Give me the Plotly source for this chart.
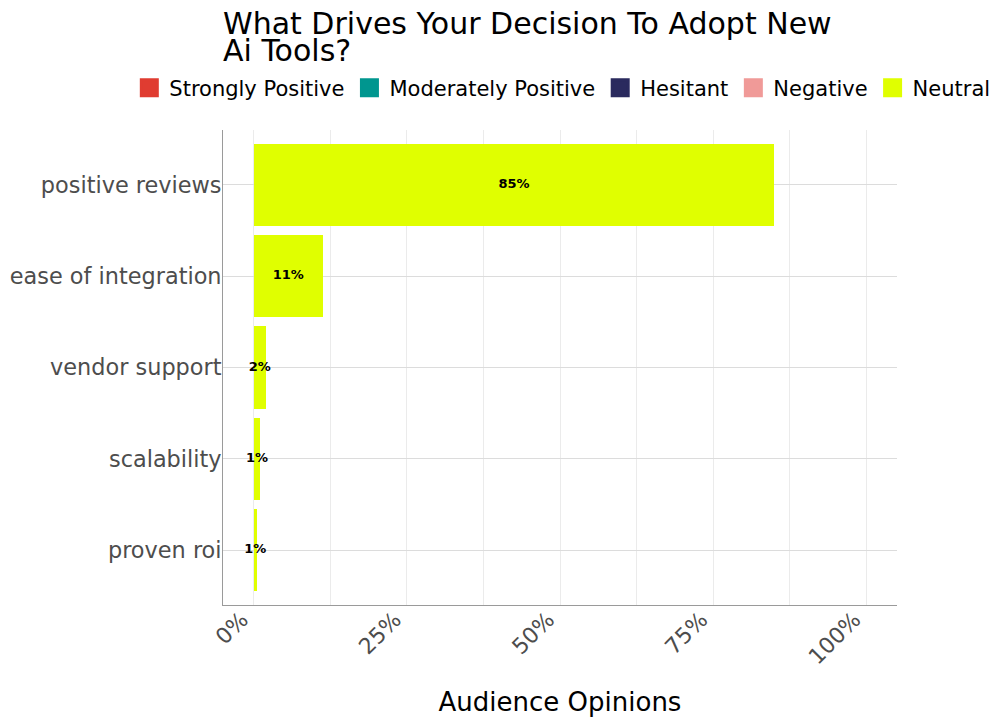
import plotly.graph_objects as go

categories = ["positive reviews", "ease of integration", "vendor support", "scalability", "proven roi"]
series_names = ["Strongly Positive", "Moderately Positive", "Hesitant", "Negative", "Neutral"]
series_colors = ["#E03C31", "#00968F", "#2A2A5E", "#F09A98", "#E0FF00"]
strongly_positive = [0, 0, 0, 0, 0]
moderately_positive = [0, 0, 0, 0, 0]
hesitant = [0, 0, 0, 0, 0]
negative = [0, 0, 0, 0, 0]
neutral = [85.0, 11.3, 2.0, 1.1, 0.55]
x_tick_vals = [0, 25, 50, 75, 100]
x_tick_text = ["0%", "25%", "50%", "75%", "100%"]

series_values = [strongly_positive, moderately_positive, hesitant, negative, neutral]
FONT = "DejaVu Sans"

fig = go.Figure()
for name, color, vals in zip(series_names, series_colors, series_values):
    fig.add_trace(go.Bar(
        x=vals, y=categories, orientation="h", name=name,
        marker=dict(color=color, line=dict(width=0)),
        showlegend=False, legendgroup=name, hoverinfo="x+y+name",
    ))

# labels at the middle of the Neutral bars
fig.add_trace(go.Scatter(
    x=[v / 2 for v in neutral], y=categories, mode="text",
    text=[f"{int(v + 0.5)}%" for v in neutral],
    textfont=dict(family=FONT, size=13, color="black", weight="bold"),
    textposition="middle center", showlegend=False, hoverinfo="skip",
))

# legend entries
for name, color in zip(series_names, series_colors):
    fig.add_trace(go.Scatter(
        x=[None], y=[None], mode="markers", name=name, legendgroup=name,
        marker=dict(symbol="square", size=16, color=color, line=dict(color=color, width=3)),
    ))

fig.update_layout(
    width=992, height=717,
    barmode="stack", bargap=0.1,
    paper_bgcolor="white", plot_bgcolor="white",
    margin=dict(l=215, r=103, t=122, b=120),
    font=dict(family=FONT, color="black"),
    showlegend=True,
    legend=dict(
        orientation="h", x=-0.139, xanchor="left", y=1.088, yanchor="middle",
        font=dict(family=FONT, size=21, color="black"),
        itemsizing="trace", tracegroupgap=0,
        bgcolor="rgba(0,0,0,0)",
    ),
    annotations=[
        dict(text="What Drives Your Decision To Adopt New", x=-0.003, y=1.224,
             xref="paper", yref="paper", xanchor="left", yanchor="middle",
             showarrow=False, font=dict(family=FONT, size=30, color="black")),
        dict(text="Ai Tools?", x=-0.003, y=1.167,
             xref="paper", yref="paper", xanchor="left", yanchor="middle",
             showarrow=False, font=dict(family=FONT, size=30, color="black")),
    ],
)

fig.update_xaxes(
    range=[-5, 105], tickvals=x_tick_vals, ticktext=x_tick_text,
    tickangle=-45, tickfont=dict(family=FONT, size=22, color="#4D4D4D"),
    ticklabelshift=-12, ticklabelstandoff=-8,
    showgrid=True, gridcolor="#EBEBEB", gridwidth=1,
    minor=dict(dtick=12.5, tick0=0, showgrid=True, gridcolor="#EBEBEB", gridwidth=1),
    showline=True, linecolor="#9A9A9A", linewidth=1, ticks="", zeroline=False,
    automargin=False,
    title=dict(text="Audience Opinions", font=dict(family=FONT, size=26, color="black"), standoff=24),
)
fig.update_yaxes(
    categoryorder="array", categoryarray=categories[::-1], range=[-0.6, 4.6],
    tickfont=dict(family=FONT, size=22.4, color="#4D4D4D"),
    ticklabelstandoff=-4,
    showgrid=True, gridcolor="#DCDCDC", gridwidth=1,
    showline=True, linecolor="#9A9A9A", linewidth=1, ticks="", zeroline=False,
    automargin=False,
)

fig.write_html("out.html")
